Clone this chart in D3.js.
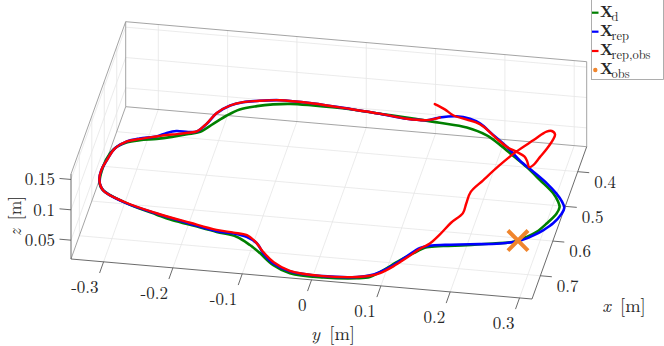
<!DOCTYPE html>
<html><head><meta charset="utf-8">
<script src="https://cdn.jsdelivr.net/npm/d3@7"></script>
<style>
body{margin:0;background:#fff}
svg{display:block}
text{font-family:"Latin Modern Roman","CMU Serif","Liberation Serif","DejaVu Serif",serif;fill:#262626}
</style>
</head><body><script>
// ---------- axis limits and ticks ----------
const xLim=[0.328,0.767], yLim=[-0.347,0.318], zLim=[0.019,0.159];
const xTicks=[0.4,0.5,0.6,0.7];
const yTicks=[-0.3,-0.2,-0.1,0,0.1,0.2,0.3];
const zTicks=[0.05,0.1,0.15];
const yTickLabels=["-0.3","-0.2","-0.1","0","0.1","0.2","0.3"];
const xTickLabels=["0.4","0.5","0.6","0.7"];
const zTickLabels=["0.05","0.1","0.15"];

// ---------- desired trajectory X_d ----------
const desX=[0.603,0.566,0.537,0.522,0.511,0.503,0.497,0.491,0.482,0.475,0.455,0.435,0.420,0.410,0.403,0.399,0.398,0.399,0.403,0.407,0.412,0.417,0.429,0.448,0.468,0.489,0.514,0.540,0.557,0.568,0.582,0.605,0.624,0.637,0.649,0.657,0.665,0.671,0.677,0.692,0.710,0.738,0.750,0.755,0.759,0.757,0.743,0.720,0.705,0.690,0.683,0.673,0.665,0.658,0.642,0.625,0.616];
const desY=[-0.335,-0.337,-0.332,-0.325,-0.313,-0.295,-0.272,-0.251,-0.231,-0.213,-0.198,-0.182,-0.166,-0.143,-0.121,-0.097,-0.064,-0.016,0.033,0.082,0.121,0.161,0.192,0.215,0.237,0.260,0.284,0.308,0.318,0.322,0.320,0.310,0.299,0.287,0.270,0.242,0.205,0.173,0.150,0.133,0.117,0.094,0.081,0.063,0.016,-0.033,-0.060,-0.083,-0.100,-0.122,-0.152,-0.192,-0.222,-0.243,-0.284,-0.316,-0.328];
const desZ=[0.050,0.057,0.063,0.066,0.068,0.069,0.070,0.072,0.073,0.075,0.078,0.082,0.085,0.087,0.088,0.089,0.089,0.089,0.088,0.087,0.087,0.086,0.083,0.080,0.076,0.072,0.067,0.062,0.059,0.057,0.054,0.050,0.046,0.044,0.041,0.040,0.038,0.037,0.036,0.033,0.030,0.025,0.022,0.021,0.020,0.021,0.024,0.028,0.031,0.034,0.035,0.037,0.038,0.040,0.043,0.046,0.048];

// ---------- reproduced trajectory X_rep ----------
const repX=[0.595,0.574,0.552,0.525,0.508,0.500,0.492,0.483,0.477,0.477,0.475,0.456,0.433,0.413,0.404,0.399,0.393,0.394,0.398,0.403,0.409,0.408,0.401,0.395,0.397,0.406,0.428,0.450,0.476,0.498,0.520,0.539,0.555,0.569,0.582,0.603,0.619,0.633,0.646,0.655,0.663,0.669,0.673,0.680,0.701,0.721,0.738,0.747,0.753,0.757,0.754,0.739,0.720,0.700,0.688,0.683,0.681,0.670,0.655,0.637,0.616];
const repY=[-0.337,-0.338,-0.334,-0.327,-0.313,-0.296,-0.273,-0.260,-0.247,-0.230,-0.218,-0.207,-0.197,-0.181,-0.164,-0.145,-0.113,-0.064,-0.016,0.033,0.073,0.102,0.119,0.142,0.162,0.178,0.201,0.225,0.248,0.272,0.295,0.312,0.323,0.329,0.327,0.319,0.308,0.296,0.279,0.252,0.210,0.175,0.154,0.141,0.125,0.110,0.094,0.081,0.063,0.015,-0.033,-0.060,-0.078,-0.091,-0.108,-0.128,-0.152,-0.193,-0.244,-0.295,-0.328];
const repZ=[0.052,0.056,0.060,0.065,0.068,0.070,0.071,0.073,0.074,0.074,0.075,0.078,0.083,0.086,0.088,0.089,0.090,0.090,0.089,0.088,0.087,0.087,0.089,0.090,0.089,0.088,0.084,0.079,0.074,0.070,0.066,0.062,0.059,0.057,0.054,0.050,0.047,0.045,0.042,0.040,0.039,0.038,0.037,0.036,0.032,0.028,0.025,0.023,0.022,0.021,0.022,0.024,0.028,0.032,0.034,0.035,0.035,0.037,0.040,0.044,0.048];

// ---------- reproduced trajectory with obstacle X_rep,obs ----------
const obsX=[0.373,0.382,0.393,0.400,0.404,0.412,0.434,0.450,0.459,0.467,0.477,0.489,0.484,0.466,0.446,0.428,0.415,0.408,0.411,0.431,0.459,0.490,0.525,0.552,0.577,0.598,0.621,0.647,0.669,0.681,0.702,0.723,0.740,0.748,0.753,0.757,0.752,0.737,0.717,0.697,0.685,0.681,0.679,0.669,0.654,0.636,0.616,0.595,0.574,0.552,0.525,0.508,0.501,0.492,0.487,0.484,0.479,0.475,0.455,0.432,0.413,0.404,0.399,0.393,0.394,0.398,0.403,0.409,0.408,0.401];
const obsY=[0.107,0.123,0.137,0.158,0.172,0.184,0.207,0.225,0.240,0.253,0.259,0.264,0.269,0.275,0.282,0.287,0.288,0.282,0.275,0.260,0.240,0.222,0.204,0.191,0.189,0.188,0.175,0.164,0.153,0.141,0.126,0.110,0.094,0.081,0.063,0.015,-0.034,-0.060,-0.079,-0.093,-0.108,-0.128,-0.153,-0.193,-0.244,-0.295,-0.328,-0.337,-0.338,-0.334,-0.327,-0.313,-0.295,-0.273,-0.259,-0.245,-0.230,-0.218,-0.207,-0.197,-0.181,-0.164,-0.145,-0.113,-0.064,-0.016,0.033,0.073,0.102,0.119];
const obsZ=[0.094,0.092,0.090,0.089,0.088,0.087,0.082,0.079,0.078,0.076,0.074,0.072,0.073,0.076,0.080,0.084,0.086,0.087,0.087,0.083,0.078,0.072,0.065,0.060,0.055,0.051,0.047,0.042,0.038,0.035,0.031,0.027,0.024,0.023,0.022,0.021,0.022,0.025,0.029,0.032,0.035,0.035,0.036,0.038,0.040,0.044,0.048,0.052,0.056,0.060,0.065,0.068,0.070,0.071,0.072,0.073,0.074,0.075,0.078,0.083,0.086,0.088,0.089,0.090,0.090,0.089,0.088,0.087,0.087,0.089];

// ---------- obstacle ----------
const obstacleX=[0.646], obstacleY=[0.276], obstacleZ=[0.042];

// ---------- legend ----------
const legendMain=["X","X","X","X"];
const legendSub=["d","rep","rep,obs","obs"];
const colors={des:"#008000",rep:"#0000ff",obs:"#ff0000",obstacle:"#f0852d"};

// ---------- projection (orthographic, MATLAB-like view) ----------
const W=664,H=346;
const svg=d3.select("body").append("svg").attr("width",W).attr("height",H);
const xS=d3.scaleLinear().domain(xLim).range([0,1]);
const yS=d3.scaleLinear().domain(yLim).range([0,1]);
const zS=d3.scaleLinear().domain(zLim).range([0,1]);
const origin=[125.7,106.7], vY=[461,40], vX=[-54.7,152.3], vZ=[0,-85];
function P(x,y,z){const a=yS(y),b=xS(x),c=zS(z);
  return [origin[0]+a*vY[0]+b*vX[0]+c*vZ[0], origin[1]+a*vY[1]+b*vX[1]+c*vZ[1]];}
function seg(g,p,q,col,w){const A=P(...p),B=P(...q);
  g.append("line").attr("x1",A[0]).attr("y1",A[1]).attr("x2",B[0]).attr("y2",B[1]).attr("stroke",col).attr("stroke-width",w);}

const [x0,x1]=xLim,[y0,y1]=yLim,[z0,z1]=zLim;
// grid
const grid=svg.append("g");
const gc="#e6e6e6", gw=0.8;
yTicks.forEach(t=>{seg(grid,[x0,t,z0],[x1,t,z0],gc,gw);seg(grid,[x0,t,z0],[x0,t,z1],gc,gw);});
xTicks.forEach(t=>{seg(grid,[t,y0,z0],[t,y1,z0],gc,gw);seg(grid,[t,y0,z0],[t,y0,z1],gc,gw);});
zTicks.forEach(t=>{seg(grid,[x0,y0,t],[x0,y1,t],gc,gw);seg(grid,[x0,y0,t],[x1,y0,t],gc,gw);});
// box (back planes)
const box=svg.append("g");
const bc="#9a9a9a", bw=0.9;
seg(box,[x0,y0,z0],[x0,y1,z0],bc,bw);
seg(box,[x1,y0,z0],[x0,y0,z0],bc,bw);
seg(box,[x0,y0,z1],[x0,y1,z1],bc,bw);
seg(box,[x0,y0,z0],[x0,y0,z1],bc,bw);
seg(box,[x0,y1,z0],[x0,y1,z1],bc,bw);
seg(box,[x1,y0,z1],[x0,y0,z1],bc,bw);
// axes
const ac="#5a5a5a", aw=0.9;
seg(box,[x0,y1,z0],[x1,y1,z0],ac,aw);
seg(box,[x1,y1,z0],[x1,y0,z0],ac,aw);
seg(box,[x1,y0,z0],[x1,y0,z1],ac,aw);

// ticks + labels
const tk=svg.append("g");
const fs=17;
yTicks.forEach((t,i)=>{const A=P(x1,t,z0);
  tk.append("line").attr("x1",A[0]).attr("y1",A[1]).attr("x2",A[0]-4).attr("y2",A[1]+11.2).attr("stroke",ac).attr("stroke-width",aw);
  tk.append("text").attr("x",A[0]-5).attr("y",A[1]+31.5).attr("text-anchor","end").attr("font-size",fs).text(yTickLabels[i]);});
xTicks.forEach((t,i)=>{const A=P(t,y1,z0);
  tk.append("line").attr("x1",A[0]).attr("y1",A[1]).attr("x2",A[0]+11.5).attr("y2",A[1]+1).attr("stroke",ac).attr("stroke-width",aw);
  tk.append("text").attr("x",A[0]+16.5).attr("y",A[1]+16.3).attr("text-anchor","start").attr("font-size",fs).text(xTickLabels[i]);});
zTicks.forEach((t,i)=>{const A=P(x1,y0,t);
  tk.append("line").attr("x1",A[0]).attr("y1",A[1]).attr("x2",A[0]-11.5).attr("y2",A[1]-1).attr("stroke",ac).attr("stroke-width",aw);
  tk.append("text").attr("x",A[0]-16).attr("y",A[1]+5.8).attr("text-anchor","end").attr("font-size",fs).text(zTickLabels[i]);});

// axis labels
const lfs=18.5;
function axLabel(g,v){g.append("tspan").attr("font-style","italic").text(v);g.append("tspan").text("\u00a0[m]");}
axLabel(svg.append("text").attr("x",333).attr("y",340).attr("text-anchor","middle").attr("font-size",lfs),"y");
axLabel(svg.append("text").attr("x",624).attr("y",312).attr("text-anchor","middle").attr("font-size",lfs),"x");
axLabel(svg.append("text").attr("transform","translate(20.5,216) rotate(-90)").attr("text-anchor","middle").attr("font-size",17.5),"z");

// curves
function pts(X,Y,Z){return X.map((v,i)=>P(v,Y[i],Z[i]));}
const closed=d3.line().curve(d3.curveCatmullRomClosed.alpha(0.5));
const open=d3.line().curve(d3.curveCatmullRom.alpha(0.5));
const cg=svg.append("g").attr("fill","none").attr("stroke-linejoin","round").attr("stroke-linecap","round");
cg.append("path").attr("d",closed(pts(desX,desY,desZ))).attr("stroke",colors.des).attr("stroke-width",2.6);
cg.append("path").attr("d",closed(pts(repX,repY,repZ))).attr("stroke",colors.rep).attr("stroke-width",2.6);
cg.append("path").attr("d",open(pts(obsX,obsY,obsZ))).attr("stroke",colors.obs).attr("stroke-width",2.4);

// obstacle marker
obstacleX.forEach((v,i)=>{const A=P(v,obstacleY[i],obstacleZ[i]);
  svg.append("path").attr("transform",`translate(${A[0]},${A[1]})`).attr("d",d3.symbol(d3.symbolX,265)()).attr("fill","none").attr("stroke",colors.obstacle).attr("stroke-width",4);});

// legend
const lg=svg.append("g");
lg.append("rect").attr("x",591.5).attr("y",-0.5).attr("width",72).attr("height",80).attr("fill","#fff").attr("stroke","#9a9a9a").attr("stroke-width",0.8);
const lcol=[colors.des,colors.rep,colors.obs,colors.obstacle];
const base=[17,36,55.3,74.3];
legendMain.forEach((n,i)=>{
  const cy=base[i]-4.3;
  if(i<3) lg.append("line").attr("x1",592).attr("x2",598.5).attr("y1",cy).attr("y2",cy).attr("stroke",lcol[i]).attr("stroke-width",2.2);
  else lg.append("circle").attr("cx",595.3).attr("cy",cy).attr("r",2.2).attr("fill",lcol[i]);
  lg.append("text").attr("x",600).attr("y",base[i]).attr("font-size",15).attr("font-weight","bold").text(n);
  lg.append("text").attr("x",611.5).attr("y",base[i]+3.5).attr("font-size",12.5).text(legendSub[i]);
});
</script></body></html>
